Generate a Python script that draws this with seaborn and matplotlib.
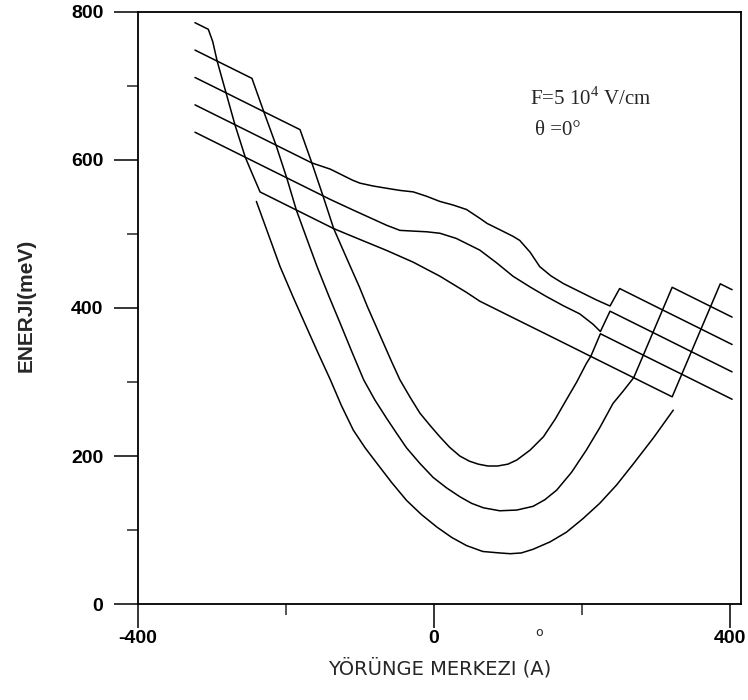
import matplotlib
matplotlib.use("Agg")
import matplotlib.pyplot as plt
from matplotlib.ticker import FixedLocator
import numpy as np
import pandas as pd
import seaborn as sns

# Energy levels (meV) versus orbit centre (Angstrom), field F = 5e4 V/cm, theta = 0
level1_x = [-323, -305, -299, -293, -246, -230, -181, -165, -140, -110, -100, -82, -64, -46, -28,
            -10, 8, 26, 44, 62, 72, 90, 107, 116, 130, 143, 158, 175, 200, 220, 238, 251, 309,
            322, 374, 387, 403]
level1_e = [785.5, 776.6, 760, 733.6, 710.3, 665.3, 641.0, 596.0, 587.6, 572.7, 568.7, 564.8,
            561.8, 558.9, 556.9, 551.0, 544.0, 539.1, 533.1, 521.2, 514.2, 505.3, 496.8, 491.3,
            475.4, 455.9, 443.5, 433.0, 420.6, 410.7, 402.7, 426.3, 397.4, 428.0, 402.1, 432.7,
            424.7]

level2_x = [-323, -293, -281, -230, -213.5, -165, -150, -140, -110, -64, -46, -28, -10, 8, 30, 62,
            85, 107, 130, 152, 175, 197, 215, 225, 238, 296, 309, 361, 374, 403]
level2_e = [748.5, 733.6, 690.7, 665.3, 620.1, 596.0, 551.6, 546.6, 532.7, 511.8, 504.9, 503.9,
            503.0, 501.0, 494.1, 478.2, 460.8, 442.8, 428.4, 415.5, 403.0, 392.1, 378.1, 368.2,
            395.7, 366.9, 397.4, 371.6, 402.1, 387.7]

level3_x = [-323, -281, -269, -213.5, -199, -150, -135.5, -110, -64, -28, 8, 44, 62, 107, 150, 188,
            200, 212, 225, 283, 296, 348, 361, 403]
level3_e = [711.5, 690.7, 647.7, 620.1, 575.9, 551.6, 507.3, 496.7, 477.8, 461.9, 443.0, 421.1,
            409.2, 386.8, 365.5, 346.6, 340.6, 334.6, 365.2, 336.3, 366.9, 341.0, 371.6, 350.7]

level4_x = [-323, -269, -255, -199, -186, -135.5, -124, -113, -101, -90, -79, -68, -57, -46, -32,
            -19, -5, 8, 21, 35, 48, 60, 73, 86, 100, 112, 130, 148, 164, 179, 193, 206, 212,
            270, 283, 335, 348, 403]
level4_e = [674.5, 647.7, 603.7, 575.9, 532.4, 507.3, 481, 456, 429, 402, 377, 352, 327, 303, 279,
            258, 241, 226, 212, 200, 193, 189, 186.5, 186.5, 189, 194.6, 208, 226, 250, 276, 300,
            325, 334.6, 305.8, 336.3, 310.5, 341.0, 313.7]

level5_x = [-323, -255, -245, -235, -186, -172, -158, -142, -127, -111, -95, -80, -64, -50, -37,
            -19, -1, 17, 35, 51, 67, 89, 112, 134, 150, 166, 186, 206, 224, 242, 256, 270, 322,
            335, 403]
level5_e = [637.5, 603.7, 580, 556.8, 532.4, 494, 456, 416, 380, 341, 303, 276, 251, 230, 211,
            190, 171, 157, 145, 136, 130, 126, 127, 132, 141, 154, 178, 208, 238, 271, 288, 305.8,
            280.0, 310.5, 276.7]

level6_x = [-240, -224, -208, -190, -174, -157, -140, -125, -109, -93, -77, -57, -37, -17, 4, 24,
            44, 66, 89, 103, 118, 134, 157, 179, 201, 224, 247, 270, 297, 323.5]
level6_e = [544, 500, 456, 414, 378, 340, 303, 268, 235, 211, 190, 164, 140, 121, 104, 90, 79, 71,
            69, 68, 69, 74, 84, 97, 115, 136, 161, 190, 225, 262]

x_major = [-400, 0, 400]
x_minor = [-200, 200]
y_major = [0, 200, 400, 600, 800]
y_minor = [100, 300, 500, 700]

levels = [(level1_x, level1_e), (level2_x, level2_e), (level3_x, level3_e),
          (level4_x, level4_e), (level5_x, level5_e), (level6_x, level6_e)]
frames = []
for k, (xs, es) in enumerate(levels):
    frames.append(pd.DataFrame({"level": k, "step": np.arange(len(xs)), "X": xs, "E": es}))
df = pd.concat(frames, ignore_index=True)

sns.set_style("ticks")
plt.rcParams["mathtext.fontset"] = "custom"
plt.rcParams["mathtext.rm"] = "Liberation Serif"

fig = plt.figure(figsize=(7.48, 7.0), dpi=100)
ax = fig.add_axes([0.1845, 0.1371, 0.8061, 0.8458])

sns.lineplot(data=df, x="X", y="E", units="level", estimator=None, sort=False,
             color="black", linewidth=1.1, legend=False, ax=ax)
for line in ax.get_lines():
    line.set_solid_joinstyle("round")

ax.set_xlim(-400, 415)
ax.set_ylim(0, 800)

for side in ["left", "right", "top", "bottom"]:
    ax.spines[side].set_visible(True)
    ax.spines[side].set_linewidth(1.3)
    ax.spines[side].set_color("black")

ax.xaxis.set_major_locator(FixedLocator(x_major))
ax.xaxis.set_minor_locator(FixedLocator(x_minor))
ax.yaxis.set_major_locator(FixedLocator(y_major))
ax.yaxis.set_minor_locator(FixedLocator(y_minor))
ax.set_xticklabels([str(v) for v in x_major])
ax.set_yticklabels([str(v) for v in y_major])
ax.tick_params(which="major", direction="out", length=17, width=1.1, pad=2,
               labelsize=14, colors="black")
ax.tick_params(axis="y", which="major", pad=8)
ax.tick_params(which="minor", direction="out", length=8, width=1.1)
for lab in ax.get_xticklabels() + ax.get_yticklabels():
    lab.set_fontfamily("Liberation Sans")
    lab.set_fontweight("bold")

ax.set_xlabel("YÖRÜNGE MERKEZI (A)", fontsize=14, family="DejaVu Sans")
ax.xaxis.set_label_coords(0.5008, -0.108)
ax.xaxis.label.set_verticalalignment("center")
ax.set_ylabel("ENERJI(meV)", fontsize=15, family="Liberation Sans", fontweight="bold")
ax.yaxis.set_label_coords(-0.186, 0.505)
ax.yaxis.label.set_verticalalignment("center")

ax.text(142, -38, "o", fontsize=9, family="DejaVu Sans", ha="center", va="center",
        clip_on=False)

ax.text(130, 674, r"F=5 10$^{4}$ V/cm", fontsize=15, family="Liberation Serif",
        ha="left", va="baseline")
ax.text(136, 634, "θ =0°", fontsize=15, family="Liberation Serif", ha="left", va="baseline")

fig.savefig("out.png", dpi=100)
